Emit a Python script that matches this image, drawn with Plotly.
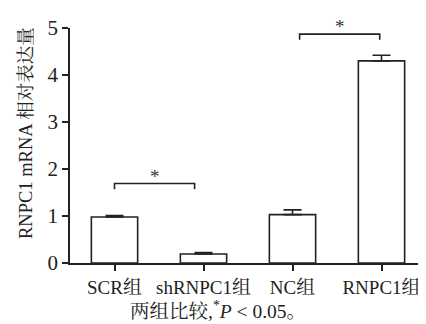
import plotly.graph_objects as go

categories = ["SCR组", "shRNPC1组", "NC组", "RNPC1组"]
values = [0.98, 0.19, 1.03, 4.30]
errors = [0.03, 0.03, 0.10, 0.12]
y_ticks = [0, 1, 2, 3, 4, 5]

# significance comparisons: (left x, right x, bracket height, label)
comparisons = [(0.0, 0.9, 1.69, "*"), (2.08, 2.98, 4.87, "*")]

FONT = "Liberation Serif, Noto Serif CJK SC, Noto Sans CJK SC, serif"

fig = go.Figure()
fig.add_trace(go.Bar(
    x=list(range(len(categories))), y=values, width=0.52,
    marker=dict(color="white", line=dict(color="#222", width=1.6)),
    error_y=dict(type="data", array=errors, arrayminus=[0]*len(errors), symmetric=False,
                 color="#222", thickness=1.6, width=9),
))

shapes = []
annotations = []
for x0, x1, h, lab in comparisons:
    drop = 0.12
    shapes.append(dict(type="path", xref="x", yref="y",
                       path=f"M {x0},{h-drop} L {x0},{h} L {x1},{h} L {x1},{h-drop}",
                       line=dict(color="#222", width=1.6)))
    annotations.append(dict(x=(x0+x1)/2, y=h, xref="x", yref="y", text=lab, showarrow=False,
                            yanchor="bottom", yshift=-5, font=dict(family=FONT, size=19, color="#333")))

annotations.append(dict(x=0.416, y=-0.2, xref="paper", yref="paper",
                        text="两组比较,<sup>*</sup><i>P</i> < 0.05。", showarrow=False,
                        xanchor="center", yanchor="middle",
                        font=dict(family=FONT, size=19.5, color="#222")))
annotations.append(dict(x=-0.1236, y=0.553, xref="paper", yref="paper",
                        text="RNPC1 mRNA 相对表达量", showarrow=False, textangle=-90,
                        xanchor="center", yanchor="middle",
                        font=dict(family=FONT, size=18.5, color="#222")))

fig.update_layout(
    width=426, height=324, margin=dict(l=62, r=8, t=18, b=69),
    paper_bgcolor="white", plot_bgcolor="white", showlegend=False,
    shapes=shapes, annotations=annotations,
    font=dict(family=FONT, size=20, color="#222"),
)
fig.update_xaxes(range=[-0.5, 3.5], tickvals=list(range(len(categories))), ticktext=categories,
                 showline=True, linecolor="#222", linewidth=1.6, ticks="outside", ticklen=6,
                 tickwidth=1.6, tickcolor="#222", showgrid=False, zeroline=False,
                 tickangle=0, tickfont=dict(family=FONT, size=19, color="#222"))
fig.update_yaxes(range=[0, 5], tickvals=y_ticks, showline=True, linecolor="#222", linewidth=1.6,
                 ticks="outside", ticklen=6, tickwidth=1.6, tickcolor="#222", showgrid=False,
                 zeroline=False, tickfont=dict(family=FONT, size=21, color="#222"))

fig.write_html("out.html")
